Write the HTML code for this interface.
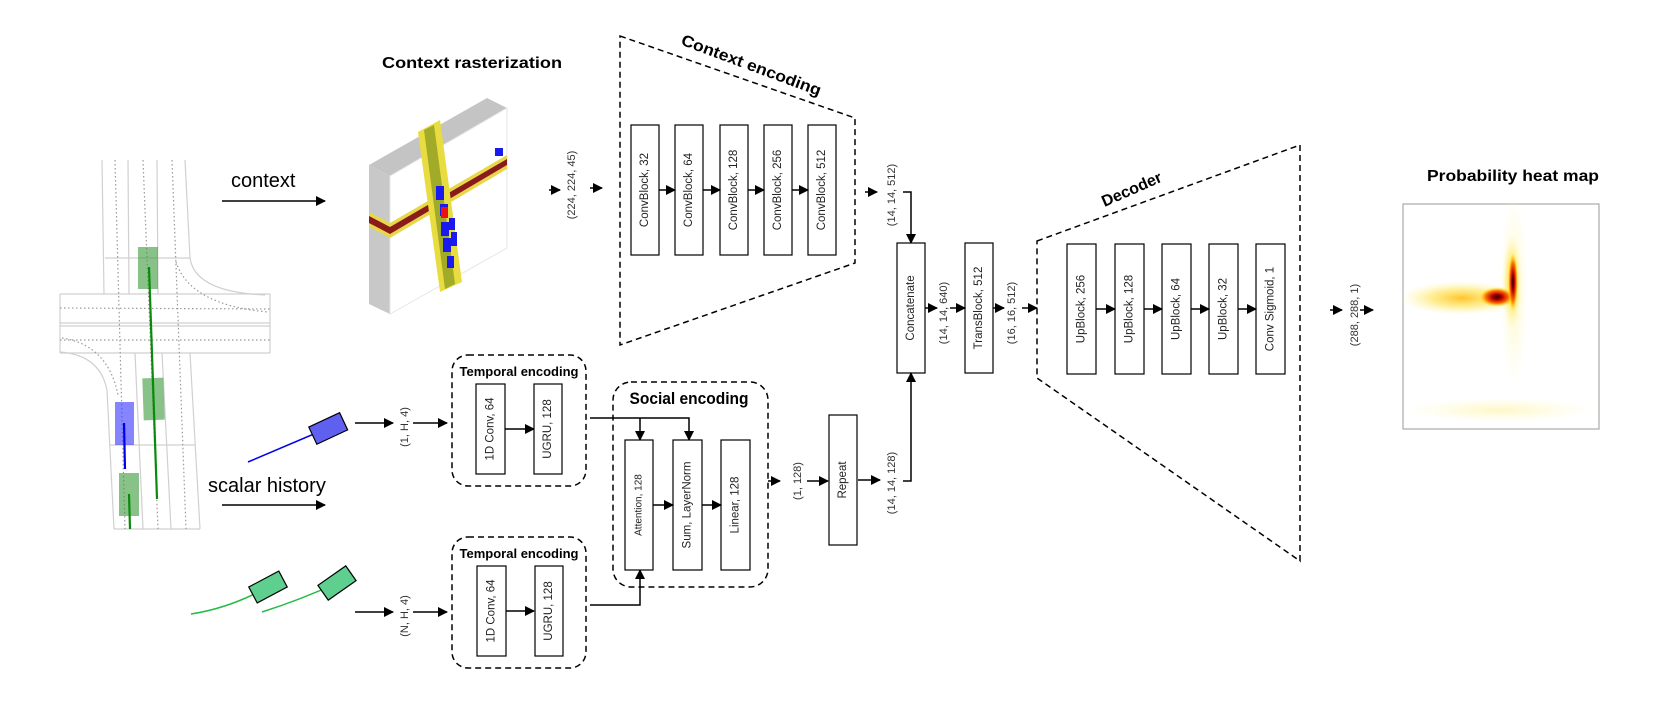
<!DOCTYPE html>
<html><head><meta charset="utf-8"><style>
html,body{margin:0;padding:0;background:#fff}
svg{display:block}
text{font-family:"Liberation Sans",sans-serif}
.lbl{font-size:11px;fill:#333}
.bx{font-size:11.5px;fill:#222}
.b{font-weight:bold;fill:#000}
</style></head><body>
<svg width="1661" height="723" viewBox="0 0 1661 723" xmlns="http://www.w3.org/2000/svg">
<defs>
<marker id="a" markerWidth="10" markerHeight="10" refX="9" refY="5" orient="auto" markerUnits="userSpaceOnUse"><path d="M0,0 L10,5 L0,10 z" fill="#000"/></marker>
<radialGradient id="h1" cx="0.5" cy="0.5" r="0.5"><stop offset="0" stop-color="#200"/><stop offset="0.3" stop-color="#b00"/><stop offset="0.65" stop-color="#f70"/><stop offset="1" stop-color="#ff0" stop-opacity="0"/></radialGradient>
<radialGradient id="h2" cx="0.5" cy="0.5" r="0.5"><stop offset="0" stop-color="#ffc020" stop-opacity="0.95"/><stop offset="0.5" stop-color="#ffe24d" stop-opacity="0.6"/><stop offset="1" stop-color="#fff6a0" stop-opacity="0"/></radialGradient>
<radialGradient id="h3" cx="0.5" cy="0.5" r="0.5"><stop offset="0" stop-color="#fff6c0" stop-opacity="0.9"/><stop offset="1" stop-color="#fffbd0" stop-opacity="0"/></radialGradient>
</defs>

<!-- left map -->
<g stroke="#d0d0d0" stroke-width="1.2" fill="none">
<line x1="102" y1="160" x2="104" y2="294"/><line x1="128" y1="160" x2="129" y2="294"/>
<line x1="157" y1="160" x2="158" y2="294"/><line x1="185" y1="160" x2="190" y2="258"/>
<line x1="105" y1="258" x2="190" y2="258"/>
<line x1="60" y1="294" x2="270" y2="294"/><line x1="60" y1="323" x2="270" y2="323"/>
<line x1="60" y1="326" x2="270" y2="326"/><line x1="60" y1="353" x2="270" y2="353"/>
<line x1="60" y1="294" x2="60" y2="353"/><line x1="270" y1="294" x2="270" y2="353"/>
<path d="M190,258 Q195,292 265,295"/><path d="M60,352 Q100,355 107,390"/>
<line x1="107" y1="390" x2="114" y2="529"/><line x1="135" y1="353" x2="143" y2="529"/>
<line x1="162" y1="353" x2="171" y2="529"/><line x1="190" y1="353" x2="200" y2="529"/>
<line x1="110" y1="445" x2="195" y2="445"/><line x1="114" y1="529" x2="200" y2="529"/>
</g>
<g stroke="#999" stroke-width="1.2" stroke-dasharray="1.5,2.5" fill="none">
<line x1="115" y1="160" x2="125" y2="529"/><line x1="143" y1="160" x2="158" y2="529"/>
<line x1="172" y1="160" x2="186" y2="529"/>
<line x1="60" y1="308" x2="270" y2="309"/><line x1="60" y1="340" x2="270" y2="340"/>
<path d="M176,262 Q190,305 268,312"/><path d="M62,338 Q108,345 118,395"/>
</g>
<rect x="138" y="247" width="20" height="42" fill="#3a9a3a" fill-opacity="0.6"/>
<rect x="143" y="378" width="21" height="42" fill="#3a9a3a" fill-opacity="0.6" transform="rotate(-2 153 399)"/>
<rect x="115" y="402" width="19" height="43" fill="#3333ff" fill-opacity="0.6"/>
<rect x="119" y="473" width="20" height="43" fill="#3a9a3a" fill-opacity="0.6"/>
<line x1="149" y1="267" x2="157" y2="499" stroke="#0a8a0a" stroke-width="2.2"/>
<line x1="124" y1="423" x2="125" y2="469" stroke="#0000ee" stroke-width="2.2"/>
<line x1="129" y1="494" x2="130" y2="529" stroke="#0a8a0a" stroke-width="2.2"/>

<text x="231" y="187" font-size="20" fill="#000">context</text>
<line x1="222" y1="201" x2="325" y2="201" stroke="#000" stroke-width="1.5" marker-end="url(#a)"/>
<text x="208" y="492" font-size="20" fill="#000">scalar history</text>
<line x1="222" y1="505" x2="325" y2="505" stroke="#000" stroke-width="1.5" marker-end="url(#a)"/>

<!-- cars -->
<line x1="248" y1="462" x2="328" y2="428" stroke="#0000ee" stroke-width="1.5"/>
<rect x="311" y="419" width="34" height="19" fill="#6060f0" stroke="#000" stroke-width="1.2" transform="rotate(-25 328 428)"/>
<path d="M191,614 Q230,608 268,587" stroke="#22bb44" stroke-width="1.5" fill="none"/>
<path d="M262,612 Q300,600 337,583" stroke="#22bb44" stroke-width="1.5" fill="none"/>
<rect x="251" y="578" width="34" height="18" fill="#5fcf8f" stroke="#000" stroke-width="1.2" transform="rotate(-28 268 587)"/>
<rect x="320" y="574" width="34" height="18" fill="#5fcf8f" stroke="#000" stroke-width="1.2" transform="rotate(-35 337 583)"/>

<!-- 3d block -->
<text x="382" y="68" font-size="16" class="b" textLength="180" lengthAdjust="spacingAndGlyphs">Context rasterization</text>
<polygon points="369,165 487,98 507,108 390,176" fill="#c4c4c4"/>
<polygon points="369,165 390,176 390,314 369,304" fill="#c8c8c8"/>
<polygon points="390,176 507,108 507,248 390,314" fill="#fff" stroke="#e6e6e6"/>
<polygon points="369,212 390,223 507,155 507,169 390,238 369,227" fill="#e6d84a"/>
<polygon points="369,216 390,227 507,159 507,165 390,234 369,223" fill="#8b1a1a"/>
<polygon points="418,132 440,120 462,282 440,292" fill="#e8dc40"/>
<polygon points="424,130 434,125 455,284 445,289" fill="#5a7a10" opacity="0.5"/>
<g fill="#1a1aee">
<rect x="436" y="186" width="8" height="14"/><rect x="440" y="204" width="8" height="12"/>
<rect x="441" y="222" width="8" height="14"/><rect x="449" y="218" width="6" height="12"/>
<rect x="443" y="238" width="8" height="14"/><rect x="451" y="232" width="6" height="14"/>
<rect x="447" y="256" width="7" height="12"/><rect x="495" y="148" width="8" height="8"/>
</g>
<rect x="441" y="207" width="7" height="11" fill="#e11"/>

<!-- context encoding -->
<line x1="549" y1="190" x2="560" y2="190" stroke="#000" stroke-width="1.5" marker-end="url(#a)"/>
<text class="lbl" transform="translate(572,185) rotate(-90)" text-anchor="middle" dominant-baseline="central">(224, 224, 45)</text>
<line x1="590" y1="188" x2="602" y2="188" stroke="#000" stroke-width="1.5" marker-end="url(#a)"/>
<polygon points="620,36 855,118 855,263 620,345" fill="none" stroke="#000" stroke-width="1.5" stroke-dasharray="6,4"/>
<text class="b" font-size="16" transform="translate(751,66) rotate(20.4)" text-anchor="middle" dominant-baseline="central" textLength="148" lengthAdjust="spacingAndGlyphs">Context encoding</text>
<g fill="#fff" stroke="#000" stroke-width="1.2">
<rect x="631" y="125" width="28" height="130"/><rect x="675" y="125" width="28" height="130"/>
<rect x="720" y="125" width="28" height="130"/><rect x="764" y="125" width="28" height="130"/>
<rect x="808" y="125" width="28" height="130"/>
</g>
<g class="bx" text-anchor="middle" dominant-baseline="central">
<text transform="translate(645,190) rotate(-90)">ConvBlock, 32</text>
<text transform="translate(689,190) rotate(-90)">ConvBlock, 64</text>
<text transform="translate(734,190) rotate(-90)">ConvBlock, 128</text>
<text transform="translate(778,190) rotate(-90)">ConvBlock, 256</text>
<text transform="translate(822,190) rotate(-90)">ConvBlock, 512</text>
</g>
<g stroke="#000" stroke-width="1.5" marker-end="url(#a)">
<line x1="659" y1="190" x2="675" y2="190"/><line x1="703" y1="190" x2="720" y2="190"/>
<line x1="748" y1="190" x2="764" y2="190"/><line x1="792" y1="190" x2="808" y2="190"/>
<line x1="865" y1="192" x2="877" y2="192"/>
</g>
<text class="lbl" transform="translate(892,195) rotate(-90)" text-anchor="middle" dominant-baseline="central">(14, 14, 512)</text>
<polyline points="903,192 911,192 911,243" fill="none" stroke="#000" stroke-width="1.5" marker-end="url(#a)"/>

<!-- concat / trans -->
<rect x="897" y="243" width="28" height="130" fill="#fff" stroke="#000" stroke-width="1.2"/>
<rect x="965" y="243" width="28" height="130" fill="#fff" stroke="#000" stroke-width="1.2"/>
<text class="bx" transform="translate(911,308) rotate(-90)" text-anchor="middle" dominant-baseline="central">Concatenate</text>
<text class="bx" transform="translate(979,308) rotate(-90)" text-anchor="middle" dominant-baseline="central">TransBlock, 512</text>
<text class="lbl" transform="translate(944,313) rotate(-90)" text-anchor="middle" dominant-baseline="central">(14, 14, 640)</text>
<text class="lbl" transform="translate(1012,313) rotate(-90)" text-anchor="middle" dominant-baseline="central">(16, 16, 512)</text>
<g stroke="#000" stroke-width="1.5" marker-end="url(#a)">
<line x1="925" y1="308" x2="937" y2="308"/><line x1="950" y1="308" x2="965" y2="308"/>
<line x1="993" y1="308" x2="1004" y2="308"/><line x1="1022" y1="308" x2="1037" y2="308"/>
</g>

<!-- decoder -->
<polygon points="1037,241 1300,145 1300,561 1037,378" fill="none" stroke="#000" stroke-width="1.5" stroke-dasharray="6,4"/>
<text class="b" font-size="16" transform="translate(1132,190) rotate(-23.8)" text-anchor="middle" dominant-baseline="central">Decoder</text>
<g fill="#fff" stroke="#000" stroke-width="1.2">
<rect x="1067" y="244" width="29" height="130"/><rect x="1115" y="244" width="29" height="130"/>
<rect x="1162" y="244" width="29" height="130"/><rect x="1209" y="244" width="29" height="130"/>
<rect x="1256" y="244" width="29" height="130"/>
</g>
<g class="bx" text-anchor="middle" dominant-baseline="central">
<text transform="translate(1081.5,309) rotate(-90)">UpBlock, 256</text>
<text transform="translate(1129.5,309) rotate(-90)">UpBlock, 128</text>
<text transform="translate(1176.5,309) rotate(-90)">UpBlock, 64</text>
<text transform="translate(1223.5,309) rotate(-90)">UpBlock, 32</text>
<text transform="translate(1270.5,309) rotate(-90)">Conv Sigmoid, 1</text>
</g>
<g stroke="#000" stroke-width="1.5" marker-end="url(#a)">
<line x1="1096" y1="309" x2="1115" y2="309"/><line x1="1144" y1="309" x2="1162" y2="309"/>
<line x1="1191" y1="309" x2="1209" y2="309"/><line x1="1238" y1="309" x2="1256" y2="309"/>
<line x1="1330" y1="310" x2="1342" y2="310"/><line x1="1360" y1="310" x2="1373" y2="310"/>
</g>
<text class="lbl" transform="translate(1355,315) rotate(-90)" text-anchor="middle" dominant-baseline="central">(288, 288, 1)</text>

<!-- heat map -->
<text x="1427" y="181" font-size="16" class="b" textLength="172" lengthAdjust="spacingAndGlyphs">Probability heat map</text>
<rect x="1403" y="204" width="196" height="225" fill="#fff" stroke="#999" stroke-width="1"/>
<ellipse cx="1514" cy="290" rx="14" ry="95" fill="url(#h3)"/>
<ellipse cx="1462" cy="298" rx="62" ry="17" fill="url(#h2)"/>
<ellipse cx="1512" cy="282" rx="10" ry="48" fill="url(#h2)"/>
<ellipse cx="1497" cy="297" rx="18" ry="10" fill="url(#h1)"/>
<ellipse cx="1513" cy="282" rx="5" ry="30" fill="url(#h1)"/>
<ellipse cx="1500" cy="410" rx="95" ry="12" fill="url(#h3)"/>

<!-- temporal encodings -->
<g stroke="#000" stroke-width="1.5" marker-end="url(#a)">
<line x1="355" y1="423" x2="393" y2="423"/><line x1="413" y1="423" x2="447" y2="423"/>
<line x1="355" y1="612" x2="393" y2="612"/><line x1="413" y1="612" x2="447" y2="612"/>
<line x1="505" y1="429" x2="534" y2="429"/><line x1="505" y1="611" x2="534" y2="611"/>
</g>
<text class="lbl" transform="translate(405,427) rotate(-90)" text-anchor="middle" dominant-baseline="central">(1, H, 4)</text>
<text class="lbl" transform="translate(405,616) rotate(-90)" text-anchor="middle" dominant-baseline="central">(N, H, 4)</text>
<rect x="452" y="355" width="134" height="131" rx="16" fill="none" stroke="#000" stroke-width="1.5" stroke-dasharray="6,4"/>
<rect x="452" y="537" width="134" height="131" rx="16" fill="none" stroke="#000" stroke-width="1.5" stroke-dasharray="6,4"/>
<text x="519" y="376" font-size="13" class="b" text-anchor="middle" textLength="119" lengthAdjust="spacingAndGlyphs">Temporal encoding</text>
<text x="519" y="558" font-size="13" class="b" text-anchor="middle" textLength="119" lengthAdjust="spacingAndGlyphs">Temporal encoding</text>
<g fill="#fff" stroke="#000" stroke-width="1.2">
<rect x="476" y="384" width="29" height="90"/><rect x="534" y="384" width="28" height="90"/>
<rect x="477" y="566" width="29" height="90"/><rect x="535" y="566" width="28" height="90"/>
</g>
<g class="bx" font-size="10.5" text-anchor="middle" dominant-baseline="central">
<text transform="translate(490.5,429) rotate(-90)">1D Conv, 64</text>
<text transform="translate(548,429) rotate(-90)">UGRU, 128</text>
<text transform="translate(491.5,611) rotate(-90)">1D Conv, 64</text>
<text transform="translate(549,611) rotate(-90)">UGRU, 128</text>
</g>

<!-- social -->
<rect x="613" y="382" width="155" height="205" rx="18" fill="none" stroke="#000" stroke-width="1.5" stroke-dasharray="6,4"/>
<text x="689" y="404" font-size="17" class="b" text-anchor="middle" textLength="119" lengthAdjust="spacingAndGlyphs">Social encoding</text>
<polyline points="590,418 689,418 689,440" fill="none" stroke="#000" stroke-width="1.5" marker-end="url(#a)"/>
<line x1="640" y1="418" x2="640" y2="440" stroke="#000" stroke-width="1.5" marker-end="url(#a)"/>
<polyline points="590,605 640,605 640,570" fill="none" stroke="#000" stroke-width="1.5" marker-end="url(#a)"/>
<g fill="#fff" stroke="#000" stroke-width="1.2">
<rect x="625" y="440" width="28" height="130"/><rect x="673" y="440" width="29" height="130"/>
<rect x="721" y="440" width="29" height="130"/>
</g>
<g class="bx" text-anchor="middle" dominant-baseline="central">
<text font-size="10" transform="translate(639,505) rotate(-90)">Attention, 128</text>
<text transform="translate(687.5,505) rotate(-90)">Sum, LayerNorm</text>
<text transform="translate(735.5,505) rotate(-90)">Linear, 128</text>
</g>
<g stroke="#000" stroke-width="1.5" marker-end="url(#a)">
<line x1="653" y1="505" x2="673" y2="505"/><line x1="702" y1="505" x2="721" y2="505"/>
<line x1="768" y1="481" x2="780" y2="481"/><line x1="807" y1="481" x2="828" y2="481"/>
<line x1="858" y1="480" x2="880" y2="480"/>
</g>
<text class="lbl" transform="translate(798,481) rotate(-90)" text-anchor="middle" dominant-baseline="central">(1, 128)</text>
<rect x="829" y="415" width="28" height="130" fill="#fff" stroke="#000" stroke-width="1.2"/>
<text class="bx" transform="translate(843,480) rotate(-90)" text-anchor="middle" dominant-baseline="central">Repeat</text>
<text class="lbl" transform="translate(892,483) rotate(-90)" text-anchor="middle" dominant-baseline="central">(14, 14, 128)</text>
<polyline points="903,481 911,481 911,373" fill="none" stroke="#000" stroke-width="1.5" marker-end="url(#a)"/>
</svg>
</body></html>
